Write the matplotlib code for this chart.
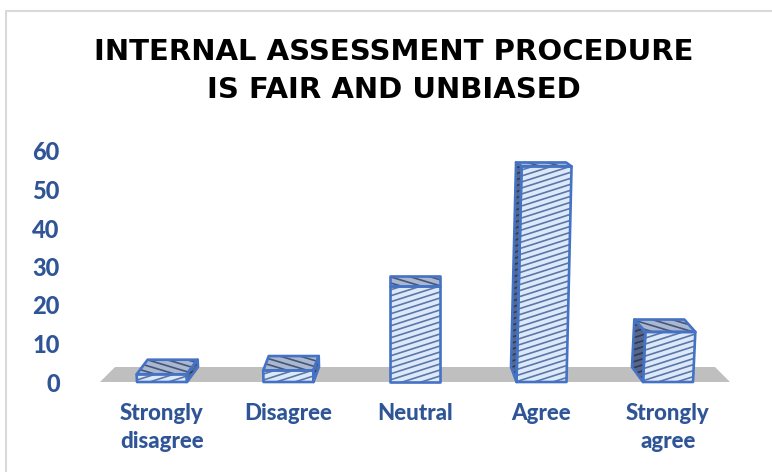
import numpy as np
import matplotlib
matplotlib.use('Agg')
import matplotlib.pyplot as plt
from matplotlib.lines import Line2D
from matplotlib.patches import Polygon

categories = ['Strongly\ndisagree', 'Disagree', 'Neutral', 'Agree', 'Strongly\nagree']
values = [2, 3, 25, 56, 13]
yticks = [0, 10, 20, 30, 40, 50, 60]
title = 'INTERNAL ASSESSMENT PROCEDURE\nIS FAIR AND UNBIASED'

W, H = 772, 472
BLUE = '#4472C4'
TEXT = '#2F5597'

fig = plt.figure(figsize=(W / 100, H / 100), dpi=100)
ax = fig.add_axes([100 / W, (H - 382) / H, 630 / W, 231 / H])
ax.set_xlim(-62 / 126.5, 568 / 126.5)
ax.set_ylim(0, 60)
for s in ax.spines.values():
    s.set_visible(False)

# one pixel in data units
px = 1 / 126.5
py = 60 / 231
bar_w = 50 * px


def face(pts, fill, stripe, slope, gap, lw=1.2):
    poly = Polygon(pts, closed=True, facecolor=fill, edgecolor='none', clip_on=False, zorder=3)
    ax.add_patch(poly)
    # stripes are clipped to the face, hatch in mpl is stuck at 45 degrees
    xs = np.array([p[0] for p in pts]) / px
    ys = np.array([p[1] for p in pts]) / py
    x0, x1 = xs.min(), xs.max()
    lo = ys.min() - abs(slope) * (x1 - x0)
    hi = ys.max() + abs(slope) * (x1 - x0)
    for c in np.arange(lo, hi, gap):
        ln, = ax.plot([x0 * px, x1 * px], [c * py, (c + slope * (x1 - x0)) * py],
                      color=stripe, lw=lw, solid_capstyle='butt', zorder=4)
        ln.set_clip_path(poly)
    ax.add_patch(Polygon(pts, closed=True, facecolor='none', edgecolor=BLUE, lw=1.9,
                         joinstyle='round', clip_on=False, zorder=5))


# floor
ax.add_patch(Polygon([(-62 * px, 0), (-47 * px, 15 * py), (553 * px, 15 * py), (568 * px, 0)],
                     closed=True, facecolor='#BFBFBF', edgecolor='none', clip_on=False, zorder=1))

for i, v in enumerate(values):
    lean = (i - 2) * 0.09 * v * px          # front face tilts a bit
    dx = (2 - i) * 5.5 * px                 # depth goes to a vanishing point
    dy0 = 15 * py
    dy = 15 * (1 - v / 76) * py
    l, r = i - bar_w / 2, i + bar_w / 2

    fbl, fbr = (l, 0), (r, 0)
    ftl, ftr = (l + lean, v), (r + lean, v)
    bbl, bbr = (l + dx, dy0), (r + dx, dy0)
    btl, btr = (l + lean + dx, v + dy), (r + lean + dx, v + dy)

    if i > 2:
        face([fbl, ftl, btl, bbl], '#56678A', '#2E3A58', 0.32, 6)
    elif i < 2:
        face([fbr, ftr, btr, bbr], '#56678A', '#2E3A58', 0.32, 6)
    face([ftl, ftr, btr, btl], '#A9B7CF', '#46557C', -0.3, 6)
    face([fbl, fbr, ftr, ftl], '#DCE9FB', '#5C76A6', 0.32, 6)

ax.set_xticks(range(len(categories)))
ax.set_xticklabels(categories, family='Lato', fontweight='black', fontsize=16, color=TEXT, linespacing=1.45)
ax.set_yticks(yticks)
ax.set_yticklabels([str(t) for t in yticks], family='Lato', fontweight='black', fontsize=17, color=TEXT)
ax.tick_params(axis='x', length=0, pad=15)
ax.tick_params(axis='y', length=0, pad=29)

fig.text(394 / W, 1 - 71 / H, title, ha='center', va='center', family='DejaVu Sans',
         fontweight='bold', fontsize=21, color='black', linespacing=1.42)

# chart frame, only left and top show in the crop
fig.add_artist(Line2D([5.5 / W, 5.5 / W, 1], [0, 1 - 11 / H, 1 - 11 / H], color='#D9D9D9', lw=1.5))

fig.savefig('out.png', dpi=100)
